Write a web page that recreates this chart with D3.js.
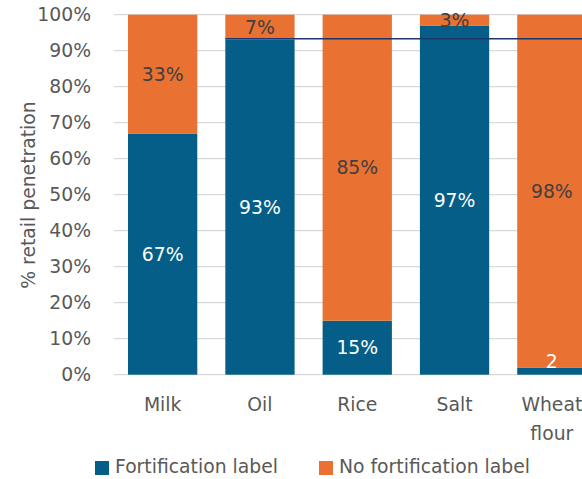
<!DOCTYPE html>
<html><head><meta charset="utf-8">
<script src="https://cdn.jsdelivr.net/npm/d3@7/dist/d3.min.js"></script>
<style>body{margin:0;background:#fff;}svg{display:block;}text{font-family:"DejaVu Sans",sans-serif;}</style>
</head><body><svg id="c" width="582" height="479"></svg>
<script>
const categories = [["Milk"],["Oil"],["Rice"],["Salt"],["Wheat","flour"]];
const fortified = [67, 93, 15, 97, 2];
const notFortified = [33, 7, 85, 3, 98];
const fortLabels = ["67%","93%","15%","97%","2"];
const notLabels = ["33%","7%","85%","3%","98%"];
const refLineValue = 93.3;
const yTicks = [0,10,20,30,40,50,60,70,80,90,100];
const seriesNames = ["Fortification label","No fortification label"];
const colors = ["#045e87","#e97132"];

const svg = d3.select("#c");
const plotLeft = 114, plotRight = 600.5, plotTop = 14.7, plotBottom = 374.7;
const x = d3.scaleBand().domain(d3.range(categories.length)).range([plotLeft, plotRight]).paddingInner(0.288).paddingOuter(0.144);
const y = d3.scaleLinear().domain([0,100]).range([plotBottom, plotTop]);
const FS = 18.8;

svg.append("g").selectAll("line").data(yTicks).join("line")
  .attr("x1", plotLeft).attr("x2", 582).attr("y1", d=>y(d)).attr("y2", d=>y(d))
  .attr("stroke", "#d9d9d9").attr("stroke-width", 1.3);

svg.append("g").selectAll("text").data(yTicks).join("text")
  .attr("x", 91).attr("y", d=>y(d)).attr("dy","0.36em").attr("text-anchor","end")
  .attr("font-size", FS).attr("fill","#595959").text(d=>d+"%");

svg.append("text").attr("transform","translate(35,195) rotate(-90)")
  .attr("text-anchor","middle").attr("font-size",FS).attr("fill","#595959").text("% retail penetration");

const stack = categories.map((c,i)=>({i, f: fortified[i], n: notFortified[i]}));
const g = svg.append("g");
g.selectAll("rect.f").data(stack).join("rect").attr("class","f")
  .attr("x", d=>x(d.i)).attr("width", x.bandwidth())
  .attr("y", d=>y(d.f)).attr("height", d=>y(0)-y(d.f)).attr("fill", colors[0]);
g.selectAll("rect.n").data(stack).join("rect").attr("class","n")
  .attr("x", d=>x(d.i)).attr("width", x.bandwidth())
  .attr("y", d=>y(d.f+d.n)).attr("height", d=>y(d.f)-y(d.f+d.n)).attr("fill", colors[1]);

svg.append("line").attr("x1", x(1)).attr("x2", 582).attr("y1", y(refLineValue)).attr("y2", y(refLineValue))
  .attr("stroke","#1f3468").attr("stroke-width",1.5);

g.selectAll("text.f").data(stack).join("text").attr("class","f")
  .attr("x", d=>x(d.i)+x.bandwidth()/2)
  .attr("y", d=>(y(0)-y(d.f) < 20) ? y(d.f)-6 : y(d.f/2)).attr("dy","0.36em")
  .attr("text-anchor","middle").attr("font-size",FS).attr("fill","#fff").text(d=>fortLabels[d.i]);
g.selectAll("text.n").data(stack).join("text").attr("class","n")
  .attr("x", d=>x(d.i)+x.bandwidth()/2).attr("y", d=>y(d.f+d.n/2)).attr("dy","0.36em")
  .attr("text-anchor","middle").attr("font-size",FS).attr("fill","#404040").text(d=>notLabels[d.i]);

const cl = svg.append("g").selectAll("text").data(stack).join("text")
  .attr("x", d=>x(d.i)+x.bandwidth()/2).attr("y", 411).attr("text-anchor","middle")
  .attr("font-size",FS).attr("fill","#595959");
cl.each(function(d){
  const t = d3.select(this);
  categories[d.i].forEach((s,k)=>t.append("tspan").attr("x", x(d.i)+x.bandwidth()/2).attr("dy", k?29:0).text(s));
});

const leg = svg.append("g");
const legX = [95, 319];
seriesNames.forEach((s,k)=>{
  leg.append("rect").attr("x",legX[k]).attr("y",461).attr("width",14).attr("height",14).attr("fill",colors[k]);
  leg.append("text").attr("x",legX[k]+20).attr("y",473).attr("font-size",FS).attr("fill","#595959").text(s);
});
</script></body></html>
